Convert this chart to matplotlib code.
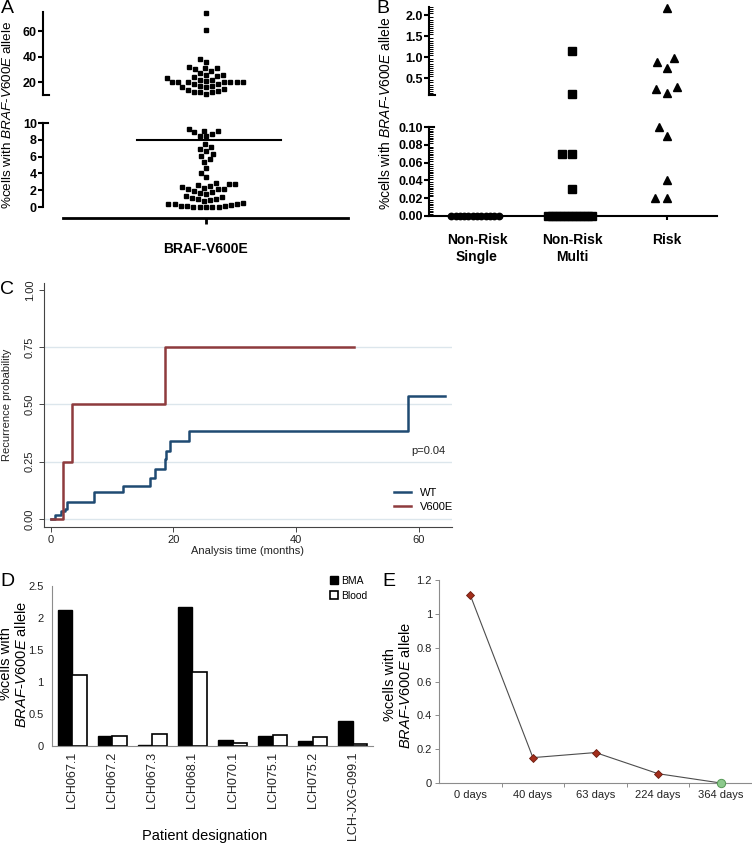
import numpy as np
import matplotlib
matplotlib.use('Agg')
import matplotlib.pyplot as plt
from matplotlib.ticker import MultipleLocator

plt.rcParams['font.family'] = ['Liberation Sans', 'DejaVu Sans']
plt.rcParams['mathtext.fontset'] = 'custom'
plt.rcParams['mathtext.it'] = 'Liberation Sans:italic'
plt.rcParams['mathtext.rm'] = 'Liberation Sans'
plt.rcParams['mathtext.bf'] = 'Liberation Sans:bold'

# ---- data ----
# A: %cells with BRAF-V600E, split by the broken axis
a_upper = [74, 61, 38, 36, 32, 31, 31, 30, 29, 27, 26, 26, 25, 24, 23, 22, 22, 21,
           20, 20, 20, 20, 20, 20, 20, 19, 19, 17, 17, 16, 16, 15, 14, 13, 12, 12, 12, 11]
a_lower = [9.3, 9.1, 9.0, 8.9, 8.7, 8.5, 8.4,
           7.5, 7.2, 6.9, 6.7, 6.3, 6.1, 5.7, 5.4, 4.7, 4.0, 3.6,
           2.8, 2.7, 2.7, 2.6, 2.5, 2.4, 2.3, 2.2, 2.2, 2.1,
           1.9, 1.8, 1.7, 1.6,
           1.3, 1.2, 1.1, 1.0, 0.9, 0.8,
           0.7, 0.5, 0.4, 0.35, 0.3, 0.2, 0.15, 0.1, 0.1, 0.05, 0.05, 0.05, 0.0, 0.0]

# B: by risk group
b_groups = ['Non-Risk\nSingle', 'Non-Risk\nMulti', 'Risk']
b_single = [0.0] * 12
b_multi = [1.15, 0.12, 0.07, 0.07, 0.03] + [0.0] * 12
b_risk = [2.18, 0.98, 0.89, 0.75, 0.28, 0.25, 0.14, 0.10, 0.09, 0.04, 0.02, 0.02]

# C: Kaplan-Meier failure curves
wt_t = [0, 0.7, 1.7, 2.3, 2.7, 7.1, 11.8, 16.2, 17.0, 18.6, 18.8, 19.4, 22.5, 58.3, 64.2]
wt_p = [0, 0.017, 0.033, 0.045, 0.073, 0.116, 0.145, 0.18, 0.218, 0.26, 0.295, 0.34, 0.382, 0.538, 0.538]
v600e_t = [0, 2.0, 3.5, 18.7, 49.4]
v600e_p = [0, 0.25, 0.5, 0.75, 0.75]

# D: BMA vs blood
patients = ['LCH067.1', 'LCH067.2', 'LCH067.3', 'LCH068.1', 'LCH070.1',
            'LCH075.1', 'LCH075.2', 'LCH-JXG-099.1']
bma = [2.12, 0.15, 0.01, 2.17, 0.10, 0.15, 0.08, 0.39]
blood = [1.11, 0.16, 0.19, 1.16, 0.05, 0.17, 0.14, 0.03]

# E: follow-up
days = ['0 days', '40 days', '63 days', '224 days', '364 days']
e_vals = [1.11, 0.15, 0.18, 0.055, 0.0]

YLAB = r'%cells with $\mathit{BRAF}$-$\mathit{V600E}$ allele'
YLAB2 = '%cells with\n' + r'$\mathit{BRAF}$-$\mathit{V600E}$ allele'

W, H = 752, 844
fig = plt.figure(figsize=(W / 100, H / 100), dpi=100)


def add_ax(l, t, r, b):
    return fig.add_axes([l / W, 1 - b / H, (r - l) / W, (b - t) / H])


def ftext(x, y, s, **kw):
    return fig.text(x / W, 1 - y / H, s, **kw)


def swarm(ypx, d):
    # greedy beeswarm, offsets in pixels
    placed = []
    xs = []
    for y in ypx:
        cands = [0.0]
        for px, py in placed:
            dy = abs(y - py)
            if dy < d:
                dx = np.sqrt(d * d - dy * dy)
                cands += [px - dx, px + dx]
        cands.sort(key=abs)
        for c in cands:
            ok = True
            for px, py in placed:
                dy = abs(y - py)
                if dy < d and abs(c - px) < np.sqrt(d * d - dy * dy) - 1e-6:
                    ok = False
                    break
            if ok:
                break
        placed.append((c, y))
        xs.append(c)
    return np.array(xs)


def bold_ticks(ax, ticks, fmt, size):
    ax.set_yticks(ticks, [fmt % t for t in ticks], fontweight='bold', fontsize=size)


# ================= A =================
axAu = add_ax(43, 12, 348, 95)
axAl = add_ax(43, 123, 348, 207)
for ax in (axAu, axAl):
    ax.set_xlim(-163, 142)
    for s in ('top', 'right', 'bottom'):
        ax.spines[s].set_visible(False)
    ax.spines['left'].set_linewidth(1.5)
    ax.tick_params(axis='y', length=3.5, width=1.5, pad=1)
    ax.set_xticks([])
axAu.set_ylim(10, 75)
axAl.set_ylim(0, 10)
bold_ticks(axAu, [20, 40, 60], '%d', 9)
bold_ticks(axAl, [0, 2, 4, 6, 8, 10], '%d', 9)

su = 83 / 65.0
sl = 84 / 10.0
vu = np.sort(np.array(a_upper, float))
vl = np.sort(np.array(a_lower, float))
axAu.plot(swarm((vu - 10) * su, 6.3), vu, 's', color='black', ms=3.3, clip_on=False)
axAl.plot(swarm(vl * sl, 6.3), vl, 's', color='black', ms=3.3, clip_on=False)
med = np.median(a_upper + a_lower)
axAl.plot([-69, 75], [med, med], color='black', lw=1.5)
axAu.plot([-163, -157], [10, 10], color='black', lw=1.5, clip_on=False)
axAl.plot([-163, -158], [10, 10], color='black', lw=1.5, clip_on=False)

axAx = add_ax(63, 217, 348, 218)
for s in ('top', 'right', 'left'):
    axAx.spines[s].set_visible(False)
axAx.spines['bottom'].set_linewidth(2)
axAx.set_xlim(-143, 142)
axAx.set_yticks([])
axAx.set_xticks([0], ['BRAF-V600E'], fontweight='bold', fontsize=10)
axAx.tick_params(axis='x', length=4, width=2, pad=13)

ftext(8, 115, YLAB, rotation=90, ha='center', va='center', fontsize=9.7)
ftext(1, 0, 'A', fontsize=14, va='top', ha='left')

# ================= B =================
axBu = add_ax(429, 7, 717, 95)
axBl = add_ax(429, 127, 717, 216)
bsp = 95.0
for ax in (axBu, axBl):
    ax.set_xlim((429 - 477) / bsp, (717 - 477) / bsp)
    for s in ('top', 'right'):
        ax.spines[s].set_visible(False)
    ax.spines['left'].set_linewidth(1.5)
    ax.tick_params(axis='y', which='major', length=3.5, width=1.5, pad=1)
    ax.tick_params(axis='y', which='minor', direction='in', length=3, width=0.7)
axBu.spines['bottom'].set_visible(False)
axBu.set_xticks([])
axBu.set_ylim(0.1, 2.2)
axBl.set_ylim(0, 0.1)
bold_ticks(axBu, [0.5, 1.0, 1.5, 2.0], '%.1f', 9)
bold_ticks(axBl, [0, 0.02, 0.04, 0.06, 0.08, 0.10], '%.2f', 9)
axBu.yaxis.set_minor_locator(MultipleLocator(0.05))
axBl.yaxis.set_minor_locator(MultipleLocator(0.002))
axBl.spines['bottom'].set_linewidth(1.5)
axBl.set_xticks(range(3), b_groups, fontweight='bold', fontsize=10, linespacing=1.3)
axBl.tick_params(axis='x', length=3, width=1.5, pad=9)
axBu.plot([0, 0.02], [0, 0], transform=axBu.transAxes, color='black', lw=1.5, clip_on=False)
axBl.plot([0, 0.017], [1, 1], transform=axBl.transAxes, color='black', lw=1.5, clip_on=False)

scale_bu = 88 / 2.1
scale_bl = 89 / 0.1
for gi, (vals, mk, ms, d, dz) in enumerate([(b_single, 'o', 4.6, 9, 4.3),
                                             (b_multi, 's', 5.6, 10, 4.0),
                                             (b_risk, '^', 6.3, 12, 4.0)]):
    v = np.array(vals, float)
    up = np.sort(v[v > 0.1])
    lo = np.sort(v[(v > 0) & (v <= 0.1)])
    zz = v[v == 0]
    if len(up):
        axBu.plot(gi + swarm((up - 0.1) * scale_bu, d) / bsp, up, mk, color='black',
                  ms=ms, clip_on=False)
    if len(lo):
        axBl.plot(gi + swarm(lo * scale_bl, d) / bsp, lo, mk, color='black',
                  ms=ms, clip_on=False)
    if len(zz):
        axBl.plot(gi + swarm(zz * scale_bl, dz) / bsp, zz, mk, color='black',
                  ms=ms, clip_on=False, zorder=3)

ftext(386, 113, YLAB, rotation=90, ha='center', va='center', fontsize=10)
ftext(376, 0, 'B', fontsize=14, va='top', ha='left')

# ================= C =================
navy = '#1f4a72'
maroon = '#8e3b3d'
axC = add_ax(44, 283, 452, 527)
axC.set_xlim(-1.1, 65.4)
axC.set_ylim(-0.035, 1.03)
for y in [0, 0.25, 0.5, 0.75]:
    axC.axhline(y, color='#dce6ec', lw=1.0, zorder=0)
axC.step(wt_t, wt_p, where='post', color=navy, lw=1.8, label='WT')
axC.step(v600e_t, v600e_p, where='post', color=maroon, lw=1.8, label='V600E')
for s in ('top', 'right'):
    axC.spines[s].set_visible(False)
for s in ('left', 'bottom'):
    axC.spines[s].set_color('#444444')
    axC.spines[s].set_linewidth(0.8)
axC.set_yticks([0, 0.25, 0.5, 0.75, 1.0], ['0.00', '0.25', '0.50', '0.75', '1.00'],
               rotation=90, va='center', fontsize=7.5)
axC.set_xticks([0, 20, 40, 60])
axC.tick_params(axis='both', length=3.5, width=0.7, color='#444444', labelsize=8,
                labelcolor='#222222')
axC.tick_params(axis='y', pad=3)
axC.tick_params(axis='x', pad=2)
axC.set_xlabel('Analysis time (months)', fontsize=8, labelpad=1, color='#222222')
axC.legend(loc='center left', bbox_to_anchor=(388 / W, 1 - 500 / H),
           bbox_transform=fig.transFigure, frameon=False, fontsize=8,
           handlelength=1.6, handletextpad=0.8, labelspacing=0.35, borderpad=0)
ftext(7, 405, 'Recurrence probability', rotation=90, ha='center', va='center',
      fontsize=8, color='#222222')
ftext(428, 451, 'p=0.04', ha='center', va='center', fontsize=8, color='#222222')
ftext(0, 281, 'C', fontsize=14, va='top', ha='left')

# ================= D =================
axD = add_ax(52, 586, 373, 746)
x = np.arange(len(patients))
axD.bar(x - 0.18, bma, 0.36, color='black', edgecolor='black', lw=1, label='BMA')
axD.bar(x + 0.18, blood, 0.36, color='white', edgecolor='black', lw=1.2, label='Blood')
axD.set_xlim(-0.5, len(patients) - 0.5)
axD.set_ylim(0, 2.5)
for s in ('top', 'right'):
    axD.spines[s].set_visible(False)
for s in ('left', 'bottom'):
    axD.spines[s].set_color('#8c8c8c')
    axD.spines[s].set_linewidth(0.8)
axD.set_yticks([0, 0.5, 1, 1.5, 2, 2.5], ['0', '0.5', '1', '1.5', '2', '2.5'])
axD.set_xticks(x, patients, rotation=90)
axD.tick_params(axis='y', length=0, pad=6, labelsize=8, labelcolor='#222222')
axD.tick_params(axis='x', length=0, pad=4, labelsize=9, labelcolor='#222222')
axD.legend(loc='upper left', bbox_to_anchor=(330 / W, 1 - 576 / H),
           bbox_transform=fig.transFigure, frameon=False, fontsize=7.5,
           handlelength=0.8, handleheight=0.8, handletextpad=0.3,
           labelspacing=0.45, borderpad=0, borderaxespad=0)
ftext(14, 664, YLAB2, rotation=90, ha='center', va='center', fontsize=10.5,
      multialignment='center', linespacing=1.05)
ftext(205, 836, 'Patient designation', ha='center', va='center', fontsize=10.5)
ftext(0, 573, 'D', fontsize=14, va='top', ha='left')

# ================= E =================
axE = add_ax(439, 580, 752, 783)
xe = np.arange(len(days))
ev = np.array(e_vals)
axE.plot(xe, ev, color='#4d4d4d', lw=0.8, zorder=2)
pos = ev > 0
axE.plot(xe[pos], ev[pos], 'D', ms=4.2, mfc='#a32e1b', mec='#6a1c10', mew=0.6, zorder=3)
axE.plot(xe[~pos], ev[~pos], 'o', ms=6, mfc='#8cc98c', mec='#559955', mew=0.7,
         zorder=3, clip_on=False)
axE.set_xlim(-0.5, len(days) - 0.5)
axE.set_ylim(0, 1.2)
for s in ('top', 'right'):
    axE.spines[s].set_visible(False)
for s in ('left', 'bottom'):
    axE.spines[s].set_color('#8c8c8c')
    axE.spines[s].set_linewidth(0.8)
axE.set_yticks([0, 0.2, 0.4, 0.6, 0.8, 1, 1.2], ['0', '0.2', '0.4', '0.6', '0.8', '1', '1.2'])
axE.set_xticks(xe, days)
axE.set_xticks(xe[:-1] + 0.5, minor=True)
axE.tick_params(axis='y', length=3, width=0.7, color='#8c8c8c', pad=2, labelsize=8,
                labelcolor='#222222')
axE.tick_params(axis='x', which='major', length=0, pad=5, labelsize=8, labelcolor='#222222')
axE.tick_params(axis='x', which='minor', length=3, width=0.7, color='#8c8c8c')
ftext(398, 685, YLAB2, rotation=90, ha='center', va='center', fontsize=10.5,
      multialignment='center', linespacing=1.05)
ftext(382, 573, 'E', fontsize=14, va='top', ha='left')

fig.savefig('out.png', dpi=100)
